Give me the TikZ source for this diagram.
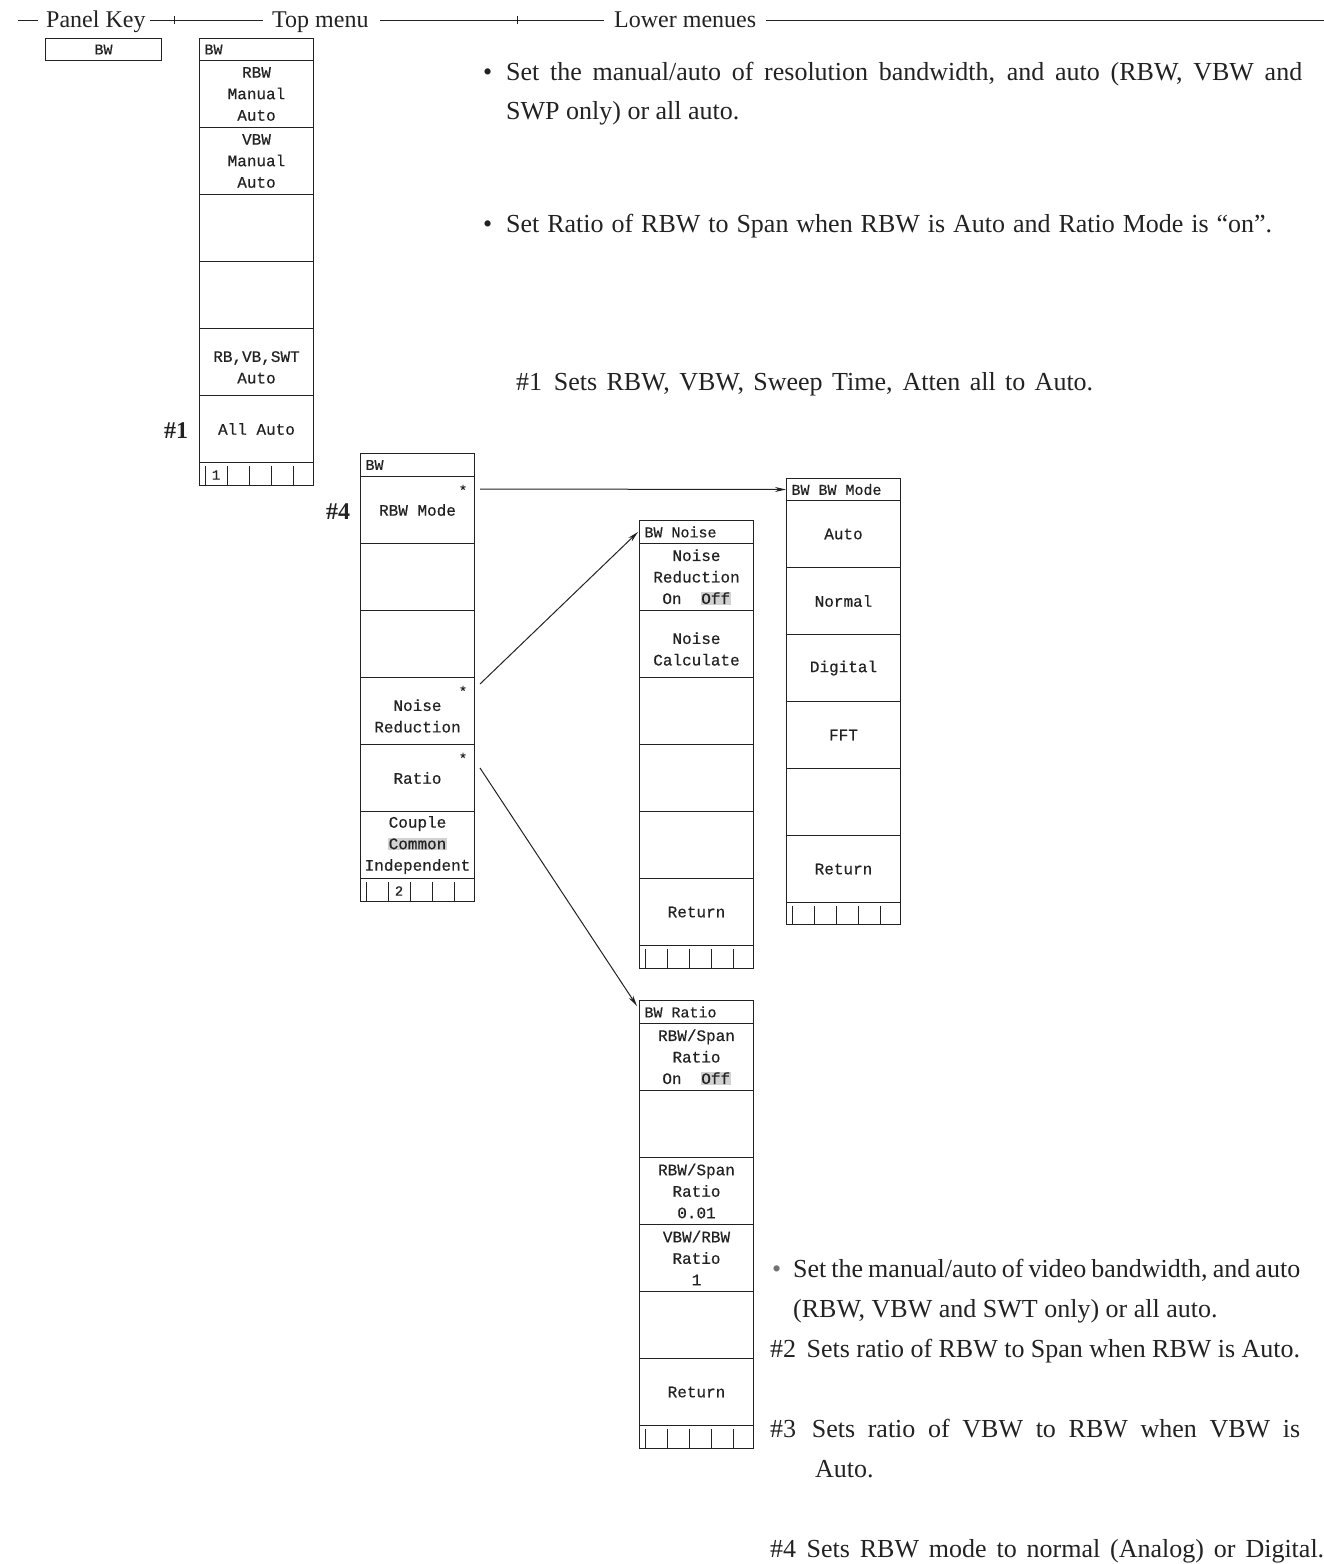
\documentclass[tikz,border=0pt]{standalone}
\usepackage{fontspec}
\setmainfont{Liberation Serif}
\newfontfamily\menufont[BoldFont={Liberation Mono}, BoldFeatures={FakeBold=0.5}]{Liberation Mono}
\usetikzlibrary{calc,arrows.meta}
\definecolor{ink}{HTML}{222222}
\newcommand{\hlt}[1]{{\setlength{\fboxsep}{0.5pt}\colorbox{black!18}{#1}}}
\newcommand{\msp}{\hspace{0.6em}}
\begin{document}
\begin{tikzpicture}[x=1pt,y=-1pt,
  body/.style={font=\fontsize{26}{39}\selectfont, text=ink, inner sep=0pt, anchor=base west},
  head/.style={font=\fontsize{24}{28}\selectfont, text=ink, inner sep=0pt, anchor=base west},
  cellbox/.style={draw=ink, line width=1pt, rectangle, anchor=north west, inner sep=0pt,
    minimum width=114pt, text width=114pt, align=center, minimum height=67pt,
    font=\menufont\bfseries\fontsize{16}{21.5}\selectfont, text=ink},
  titlebox/.style={cellbox, minimum height=23pt, text width=104pt, inner xsep=5pt, align=left,
    font=\menufont\bfseries\fontsize{15}{18}\selectfont},
  stripbox/.style={cellbox, minimum height=23pt},
  starn/.style={font=\menufont\bfseries\fontsize{14}{14}\selectfont, inner sep=0pt, text=ink},
  striplab/.style={font=\menufont\bfseries\fontsize{14}{14}\selectfont, inner sep=0pt, text=ink},
  arr/.style={draw=ink, line width=1pt, -{Stealth[length=11pt,width=5pt]}},
  rule/.style={draw=ink, line width=0.9pt},
]
\useasboundingbox (0,0) rectangle (1324,1564);

% ---------- header ----------
\coordinate (h0) at (18,20);
\coordinate (h1) at (38,20);
\node[head] (hpk) at (46,27) {Panel Key};
\coordinate (h2) at (150,20);
\coordinate (hk1) at (174,20);
\coordinate (h3) at (263,20);
\node[head] (htm) at (272,27) {Top menu};
\coordinate (h4) at (380,20);
\coordinate (hk2) at (517,20);
\coordinate (h5) at (604,20);
\node[head] (hlm) at (614,27) {Lower menues};
\coordinate (h6) at (766,20);
\coordinate (h7) at (1324,20);
\draw[rule] (h0) -- (h1);
\draw[rule] (h2) -- (h3);
\draw[rule] (h4) -- (h5);
\draw[rule] (h6) -- (h7);
\draw[rule] ($(hk1)+(0,-4)$) -- ($(hk1)+(0,4)$);
\draw[rule] ($(hk2)+(0,-4)$) -- ($(hk2)+(0,4)$);

% ---------- panel key ----------
\node[draw=ink, line width=1pt, anchor=north west, inner sep=0pt, minimum width=116pt, minimum height=22pt,
  font=\menufont\bfseries\fontsize{15}{15}\selectfont, text=ink] (pk) at (45,38) {BW};

% ---------- menu 1 (top menu) ----------
\node[titlebox, minimum height=22pt] (m1t) at (199,38) {BW};
\node[cellbox] (m1a) at (199,60) {RBW\\Manual\\Auto};
\node[cellbox] (m1b) at (199,127) {VBW\\Manual\\Auto};
\node[cellbox] (m1c) at (199,194) {};
\node[cellbox] (m1d) at (199,261) {};
\node[cellbox] (m1e) at (199,328) {\mbox{}\\RB,VB,SWT\\Auto};
\node[cellbox] (m1f) at (199,395) {All\msp Auto};
\node[stripbox] (m1s) at (199,462) {};
\node[striplab] (m1l) at ($(m1s.west)+(17,1)$) {1};

% ---------- menu 2 ----------
\node[titlebox] (m2t) at (360,453) {BW};
\node[cellbox] (m2a) at (360,476) {RBW\msp Mode};
\node[cellbox] (m2b) at (360,543) {};
\node[cellbox] (m2c) at (360,610) {};
\node[cellbox] (m2d) at (360,677) {\mbox{}\\Noise\\Reduction};
\node[cellbox] (m2e) at (360,744) {Ratio};
\node[cellbox] (m2f) at (360,811) {Couple\\\hlt{Common}\\Independent};
\node[stripbox] (m2s) at (360,878) {};
\node[striplab] (m2l) at ($(m2s.west)+(39,1)$) {2};
\node[starn] (st1) at ($(m2a.north east)+(-12,14)$) {*};
\node[starn] (st2) at ($(m2d.north east)+(-12,14)$) {*};
\node[starn] (st3) at ($(m2e.north east)+(-12,14)$) {*};

% ---------- menu 3 (noise) ----------
\node[titlebox] (m3t) at (639,520) {BW\msp Noise};
\node[cellbox] (m3a) at (639,543) {Noise\\Reduction\\On\msp\msp\hlt{Off}};
\node[cellbox] (m3b) at (639,610) {\mbox{}\\Noise\\Calculate};
\node[cellbox] (m3c) at (639,677) {};
\node[cellbox] (m3d) at (639,744) {};
\node[cellbox] (m3e) at (639,811) {};
\node[cellbox] (m3f) at (639,878) {Return};
\node[stripbox] (m3s) at (639,945) {};

% ---------- menu 4 (BW mode) ----------
\node[titlebox, minimum height=22pt] (m4t) at (786,478) {BW\msp BW\msp Mode};
\node[cellbox] (m4a) at (786,500) {Auto};
\node[cellbox] (m4b) at (786,567) {Normal};
\node[cellbox] (m4c) at (786,634) {Digital};
\node[cellbox] (m4d) at (786,701) {FFT};
\node[cellbox] (m4e) at (786,768) {};
\node[cellbox] (m4f) at (786,835) {Return};
\node[stripbox, minimum height=22pt] (m4s) at (786,902) {};

% ---------- menu 5 (ratio) ----------
\node[titlebox] (m5t) at (639,1000) {BW\msp Ratio};
\node[cellbox] (m5a) at (639,1023) {RBW/Span\\Ratio\\On\msp\msp\hlt{Off}};
\node[cellbox] (m5b) at (639,1090) {};
\node[cellbox] (m5c) at (639,1157) {RBW/Span\\Ratio\\0.01};
\node[cellbox] (m5d) at (639,1224) {VBW/RBW\\Ratio\\1};
\node[cellbox] (m5e) at (639,1291) {};
\node[cellbox] (m5f) at (639,1358) {Return};
\node[stripbox] (m5s) at (639,1425) {};

% ---------- strip ticks ----------
\foreach \s in {m1s,m2s,m3s,m4s,m5s}{
  \foreach \dx in {6,28,50,72,94}{
    \draw[ink, line width=0.9pt] ($(\s.north west)+(\dx,4)$) -- ($(\s.south west)+(\dx,0)$);
  }
}

% ---------- connectors ----------
\draw[arr] ($(m2a.north east)+(5,13)$) -- (m4t.west);
\draw[arr] ($(m2d.north east)+(5,7)$) -- ($(m3t.north west)+(-1,12)$);
\draw[arr] ($(m2e.north east)+(5,24)$) -- ($(m5t.north west)+(-2,6)$);

% ---------- labels near menus ----------
\node[body, font=\bfseries\fontsize{24}{30}\selectfont] (n1) at (164,438) {\#1};
\node[body, font=\bfseries\fontsize{24}{30}\selectfont] (n4) at (326,519) {\#4};

% ---------- top right text ----------
\node[body] (b1) at (483,80) {•};
\node[body] (t1a) at (506,80) {\makebox[796pt][s]{Set the manual/auto of resolution bandwidth, and auto (RBW, VBW and}};
\node[body] (t1b) at (506,119) {SWP only) or all auto.};
\node[body] (b2) at (483,232) {•};
\node[body] (t2) at (506,232) {\makebox[766pt][s]{Set Ratio of RBW to Span when RBW is Auto and Ratio Mode is “on”.}};
\node[body] (t3) at (516,390) {\makebox[577pt][s]{\#1\hspace{0.45em}Sets RBW, VBW, Sweep Time, Atten all to Auto.}};

% ---------- bottom right text ----------
\node[body, text=black!55] (b3) at (772,1277) {•};
\node[body] (u1a) at (793,1277) {\makebox[507pt][s]{Set the manual/auto of video bandwidth, and auto}};
\node[body] (u1b) at (793,1317) {(RBW, VBW and SWT only) or all auto.};
\node[body] (u2) at (770,1357) {\makebox[530pt][s]{\#2\hspace{0.4em}Sets ratio of RBW to Span when RBW is Auto.}};
\node[body] (u3a) at (770,1437) {\makebox[530pt][s]{\#3\hspace{0.6em}Sets ratio of VBW to RBW when VBW is}};
\node[body] (u3b) at (815,1477) {Auto.};
\node[body] (u4) at (770,1557) {\makebox[554pt][s]{\#4\hspace{0.4em}Sets RBW mode to normal (Analog) or Digital.}};
\end{tikzpicture}
\end{document}
